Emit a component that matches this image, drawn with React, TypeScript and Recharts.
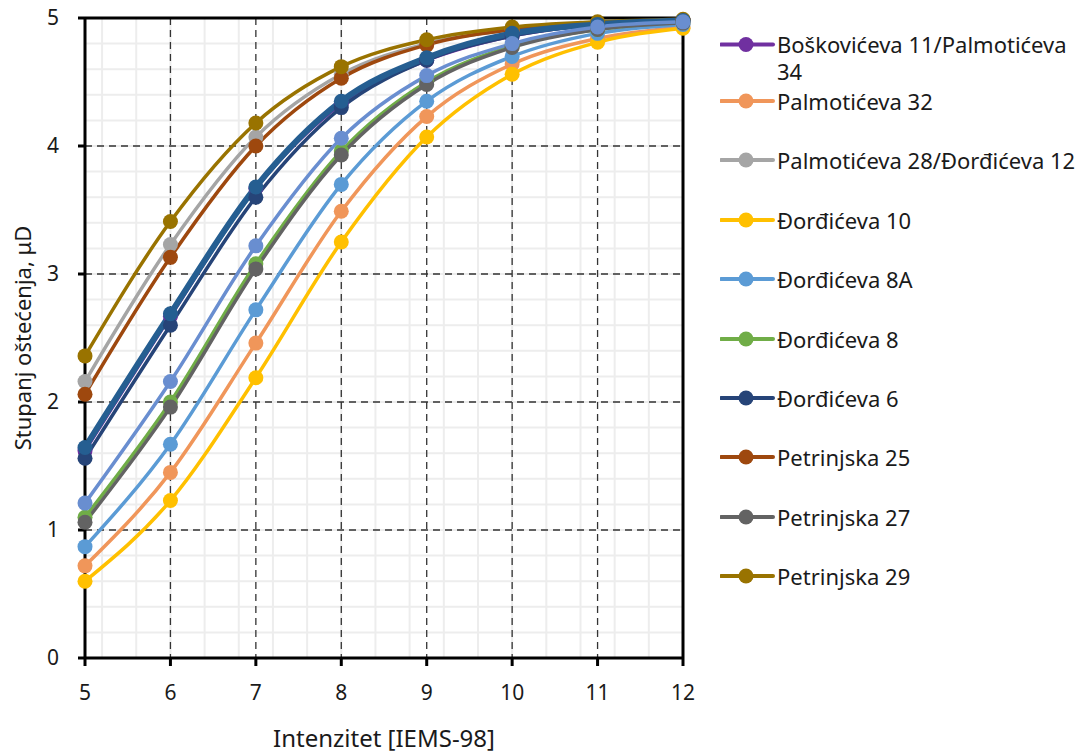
import {
  CartesianGrid,
  Label,
  Line,
  LineChart,
  ReferenceLine,
  XAxis,
  YAxis,
} from "recharts";

// intenzitet (x) and degree of damage (y) per building
const intensities = [5, 6, 7, 8, 9, 10, 11, 12];
const xTicks = [5, 6, 7, 8, 9, 10, 11, 12];
const yTicks = [0, 1, 2, 3, 4, 5];

const boskovicevaPalm34 = [1.62, 2.67, 3.67, 4.33, 4.67, 4.86, 4.95, 4.98];
const palmoticeva32 = [0.72, 1.45, 2.46, 3.49, 4.23, 4.64, 4.84, 4.93];
const palm28Dj12 = [2.16, 3.23, 4.07, 4.56, 4.8, 4.91, 4.96, 4.98];
const djordjiceva10 = [0.6, 1.23, 2.19, 3.25, 4.07, 4.56, 4.81, 4.92];
const djordjiceva8A = [0.87, 1.67, 2.72, 3.7, 4.35, 4.7, 4.88, 4.95];
const djordjiceva8 = [1.1, 2.0, 3.08, 3.96, 4.5, 4.78, 4.91, 4.97];
const djordjiceva6 = [1.56, 2.6, 3.6, 4.3, 4.67, 4.86, 4.95, 4.98];
const petrinjska25 = [2.06, 3.13, 4.0, 4.53, 4.79, 4.91, 4.96, 4.98];
const petrinjska27 = [1.06, 1.96, 3.04, 3.93, 4.48, 4.77, 4.91, 4.96];
const petrinjska29 = [2.36, 3.41, 4.18, 4.62, 4.83, 4.93, 4.97, 4.99];
// two curves without a legend entry
const unnamedA = [1.645, 2.69, 3.68, 4.35, 4.69, 4.88, 4.95, 4.98];
const unnamedB = [1.21, 2.16, 3.22, 4.06, 4.55, 4.8, 4.93, 4.97];

const series = [
  { key: "s1", name: "Boškovićeva 11/Palmotićeva 34", values: boskovicevaPalm34, color: "#7030A0", width: 3.5, legend: true },
  { key: "s2", name: "Palmotićeva 32", values: palmoticeva32, color: "#F0965A", width: 3.5, legend: true },
  { key: "s3", name: "Palmotićeva 28/Đorđićeva 12", values: palm28Dj12, color: "#A5A5A5", width: 3.5, legend: true },
  { key: "s4", name: "Đorđićeva 10", values: djordjiceva10, color: "#FFC000", width: 3.5, legend: true },
  { key: "s5", name: "Đorđićeva 8A", values: djordjiceva8A, color: "#5B9BD5", width: 3.5, legend: true },
  { key: "s6", name: "Đorđićeva 8", values: djordjiceva8, color: "#70AD47", width: 3.5, legend: true },
  { key: "s7", name: "Đorđićeva 6", values: djordjiceva6, color: "#264478", width: 3.5, legend: true },
  { key: "s8", name: "Petrinjska 25", values: petrinjska25, color: "#9E480E", width: 3.5, legend: true },
  { key: "s9", name: "Petrinjska 27", values: petrinjska27, color: "#636363", width: 3.5, legend: true },
  { key: "s10", name: "Petrinjska 29", values: petrinjska29, color: "#997300", width: 3.5, legend: true },
  { key: "s11", name: "", values: unnamedA, color: "#255E91", width: 6, legend: false },
  { key: "s12", name: "", values: unnamedB, color: "#698ED0", width: 3.5, legend: false },
];

const data = intensities.map((x, i) => {
  const row: Record<string, number> = { x };
  series.forEach((s) => {
    row[s.key] = s.values[i];
  });
  return row;
});

const minorX: number[] = [];
for (let v = 5; v <= 12.001; v += 0.2) minorX.push(Math.round(v * 10) / 10);
const minorY: number[] = [];
for (let v = 0; v <= 5.001; v += 0.2) minorY.push(Math.round(v * 10) / 10);

const FONT = "'Noto Sans', sans-serif";
const TEXT = "#1a1a1a";

const LegendBox = () => {
  const items = series.filter((s) => s.legend);
  return (
    <div style={{ position: "absolute", left: 720, top: 0, width: 365, fontFamily: FONT, fontSize: 22, color: TEXT }}>
      {items.map((s, i) => {
        const center = i === 0 ? 44 : 101 + (i - 1) * 59.4;
        const lh = i === 0 ? 27 : 30;
        return (
          <div key={s.key} style={{ position: "absolute", top: center - lh / 2, left: 0, display: "flex", alignItems: "flex-start" }}>
            <svg width={57} height={lh} style={{ flex: "none" }}>
              <line x1={1} y1={lh / 2} x2={53} y2={lh / 2} stroke={s.color} strokeWidth={4} strokeLinecap="round" />
              <circle cx={26} cy={lh / 2} r={7.5} fill={s.color} />
            </svg>
            <div style={{ width: 300, lineHeight: `${lh}px` }}>{s.name}</div>
          </div>
        );
      })}
    </div>
  );
};

export default function App() {
  return (
    <div style={{ position: "absolute", left: 0, top: 0, width: 1085, height: 753, background: "#fff" }}>
      <LineChart
        width={1085}
        height={753}
        data={data}
        margin={{ top: 18, right: 402, bottom: 0, left: 0 }}
        style={{ fontFamily: FONT }}
      >
        <CartesianGrid
          horizontalValues={minorY}
          verticalValues={minorX}
          stroke="#EDEDED"
          strokeWidth={2}
        />
        <CartesianGrid
          horizontalValues={yTicks.slice(1, -1)}
          verticalValues={xTicks.slice(1, -1)}
          stroke="#333"
          strokeWidth={1.3}
          strokeDasharray="7 5"
        />
        <XAxis
          dataKey="x"
          type="number"
          domain={[5, 12]}
          ticks={xTicks}
          height={95}
          stroke="#000"
          strokeWidth={3}
          tickSize={8}
          tickMargin={19}
          tick={{ fill: TEXT, fontSize: 21 }}
          tickLine={{ stroke: "#000", strokeWidth: 3 }}
        >
          <Label value="Intenzitet [IEMS-98]" position="insideBottom" offset={6} fill={TEXT} fontSize={24} />
        </XAxis>
        <YAxis
          type="number"
          domain={[0, 5]}
          ticks={yTicks}
          width={85}
          stroke="#000"
          strokeWidth={3}
          tickSize={7}
          tickMargin={19}
          tick={{ fill: TEXT, fontSize: 21 }}
          tickLine={{ stroke: "#000", strokeWidth: 3 }}
        >
          <Label
            value="Stupanj oštećenja, μD"
            angle={-90}
            position="insideLeft"
            offset={23}
            fill={TEXT}
            fontSize={22}
            style={{ textAnchor: "middle" }}
          />
        </YAxis>
        <ReferenceLine y={5} stroke="#000" strokeWidth={3} />
        <ReferenceLine x={12} stroke="#000" strokeWidth={3} />
        {series.map((s) => (
          <Line
            key={s.key}
            dataKey={s.key}
            name={s.name}
            type="monotone"
            stroke={s.color}
            strokeWidth={s.width}
            dot={{ r: 7.5, fill: s.color, stroke: s.color, strokeWidth: 0 }}
            activeDot={false}
            legendType={s.legend ? "line" : "none"}
            isAnimationActive={false}
          />
        ))}
      </LineChart>
      <LegendBox />
    </div>
  );
}
